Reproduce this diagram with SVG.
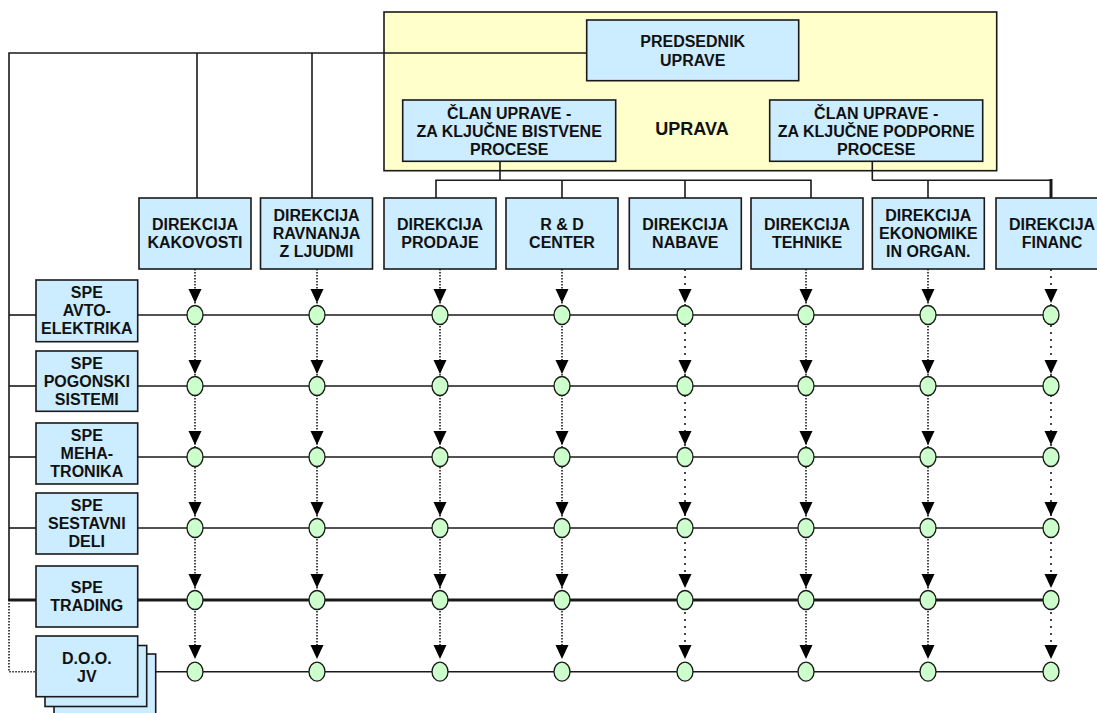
<svg xmlns="http://www.w3.org/2000/svg" xmlns:xlink="http://www.w3.org/1999/xlink" width="1097" height="713" viewBox="0 0 1097 713">
<style>
.box{fill:#CCECFF;stroke:#1a1a1a;stroke-width:1.6}
.upr{fill:#FFFFCC;stroke:#1a1a1a;stroke-width:1.6}
.t{font-family:"Liberation Sans",Arial,sans-serif;font-weight:bold;font-size:16px;text-anchor:middle;fill:#111}
.big{font-size:18px}
.ln{stroke:#1a1a1a;stroke-width:1.6;fill:none}
.thick{stroke:#1a1a1a;stroke-width:3;fill:none}
.dot{stroke:#1a1a1a;stroke-width:1.6;stroke-dasharray:1.5 1.5;fill:none}
.dots{stroke:#1a1a1a;stroke-width:1.6;stroke-dasharray:2 5;fill:none}
.ah{fill:#000}
.jn{fill:#CCFFCC;stroke:#1a1a1a;stroke-width:1.3}
</style>
<defs>
<path id="ah" class="ah" d="M-6.5,0 L6.5,0 L0,14 Z"/>
<ellipse id="jn" class="jn" cx="0" cy="0" rx="8" ry="9.5"/>
</defs>

<g id="uprava">
<rect class="upr" x="384" y="12" width="612.7" height="158.7"/>
<text class="t big" x="692" y="134.5">UPRAVA</text>
</g>

<g id="connectors">
<polyline class="ln" points="586.7,53 9,53 9,600"/>
<line class="ln" x1="197" y1="53" x2="197" y2="198"/>
<line class="ln" x1="312" y1="53" x2="312" y2="198"/>
<line class="ln" x1="500" y1="161.3" x2="500" y2="180.3"/>
<polyline class="ln" points="436,198 436,180.3 811,180.3 811,198"/>
<line class="ln" x1="562" y1="180.3" x2="562" y2="198"/>
<line class="ln" x1="685" y1="180.3" x2="685" y2="198"/>
<line class="ln" x1="872.3" y1="161.3" x2="872.3" y2="180.3"/>
<line class="ln" x1="872.3" y1="180.3" x2="1051" y2="180.3"/>
<line class="ln" x1="928" y1="180.3" x2="928" y2="198"/>
<line class="thick" x1="1051" y1="179" x2="1051" y2="198"/>
<polyline class="dot" points="9,603 9,671.7 36,671.7"/>
<line class="ln" x1="9" y1="315" x2="36" y2="315"/>
<line class="ln" x1="137.7" y1="315" x2="1051" y2="315"/>
<line class="ln" x1="9" y1="386" x2="36" y2="386"/>
<line class="ln" x1="137.7" y1="386" x2="1051" y2="386"/>
<line class="ln" x1="9" y1="457" x2="36" y2="457"/>
<line class="ln" x1="137.7" y1="457" x2="1051" y2="457"/>
<line class="ln" x1="9" y1="528" x2="36" y2="528"/>
<line class="ln" x1="137.7" y1="528" x2="1051" y2="528"/>
<line class="thick" x1="8" y1="600" x2="36" y2="600"/>
<line class="thick" x1="137.7" y1="600" x2="1051" y2="600"/>
<line class="ln" x1="156" y1="671.7" x2="1051" y2="671.7"/>
<line class="dot" x1="195" y1="269" x2="195" y2="647"/>
<line class="dot" x1="317" y1="269" x2="317" y2="647"/>
<line class="dot" x1="440" y1="269" x2="440" y2="647"/>
<line class="dot" x1="562" y1="269" x2="562" y2="647"/>
<line class="dots" x1="685" y1="269" x2="685" y2="647"/>
<line class="dot" x1="806" y1="269" x2="806" y2="647"/>
<line class="dot" x1="928" y1="269" x2="928" y2="647"/>
<line class="dots" x1="1051" y1="269" x2="1051" y2="647"/>
<g>
<use xlink:href="#ah" x="195" y="289"/><use xlink:href="#ah" x="317" y="289"/><use xlink:href="#ah" x="440" y="289"/><use xlink:href="#ah" x="562" y="289"/><use xlink:href="#ah" x="685" y="289"/><use xlink:href="#ah" x="806" y="289"/><use xlink:href="#ah" x="928" y="289"/><use xlink:href="#ah" x="1051" y="289"/>
<use xlink:href="#ah" x="195" y="360"/><use xlink:href="#ah" x="317" y="360"/><use xlink:href="#ah" x="440" y="360"/><use xlink:href="#ah" x="562" y="360"/><use xlink:href="#ah" x="685" y="360"/><use xlink:href="#ah" x="806" y="360"/><use xlink:href="#ah" x="928" y="360"/><use xlink:href="#ah" x="1051" y="360"/>
<use xlink:href="#ah" x="195" y="431"/><use xlink:href="#ah" x="317" y="431"/><use xlink:href="#ah" x="440" y="431"/><use xlink:href="#ah" x="562" y="431"/><use xlink:href="#ah" x="685" y="431"/><use xlink:href="#ah" x="806" y="431"/><use xlink:href="#ah" x="928" y="431"/><use xlink:href="#ah" x="1051" y="431"/>
<use xlink:href="#ah" x="195" y="502"/><use xlink:href="#ah" x="317" y="502"/><use xlink:href="#ah" x="440" y="502"/><use xlink:href="#ah" x="562" y="502"/><use xlink:href="#ah" x="685" y="502"/><use xlink:href="#ah" x="806" y="502"/><use xlink:href="#ah" x="928" y="502"/><use xlink:href="#ah" x="1051" y="502"/>
<use xlink:href="#ah" x="195" y="574"/><use xlink:href="#ah" x="317" y="574"/><use xlink:href="#ah" x="440" y="574"/><use xlink:href="#ah" x="562" y="574"/><use xlink:href="#ah" x="685" y="574"/><use xlink:href="#ah" x="806" y="574"/><use xlink:href="#ah" x="928" y="574"/><use xlink:href="#ah" x="1051" y="574"/>
<use xlink:href="#ah" x="195" y="645"/><use xlink:href="#ah" x="317" y="645"/><use xlink:href="#ah" x="440" y="645"/><use xlink:href="#ah" x="562" y="645"/><use xlink:href="#ah" x="685" y="645"/><use xlink:href="#ah" x="806" y="645"/><use xlink:href="#ah" x="928" y="645"/><use xlink:href="#ah" x="1051" y="645"/>
</g>
<g>
<use xlink:href="#jn" x="195" y="315"/><use xlink:href="#jn" x="317" y="315"/><use xlink:href="#jn" x="440" y="315"/><use xlink:href="#jn" x="562" y="315"/><use xlink:href="#jn" x="685" y="315"/><use xlink:href="#jn" x="806" y="315"/><use xlink:href="#jn" x="928" y="315"/><use xlink:href="#jn" x="1051" y="315"/>
<use xlink:href="#jn" x="195" y="386"/><use xlink:href="#jn" x="317" y="386"/><use xlink:href="#jn" x="440" y="386"/><use xlink:href="#jn" x="562" y="386"/><use xlink:href="#jn" x="685" y="386"/><use xlink:href="#jn" x="806" y="386"/><use xlink:href="#jn" x="928" y="386"/><use xlink:href="#jn" x="1051" y="386"/>
<use xlink:href="#jn" x="195" y="457"/><use xlink:href="#jn" x="317" y="457"/><use xlink:href="#jn" x="440" y="457"/><use xlink:href="#jn" x="562" y="457"/><use xlink:href="#jn" x="685" y="457"/><use xlink:href="#jn" x="806" y="457"/><use xlink:href="#jn" x="928" y="457"/><use xlink:href="#jn" x="1051" y="457"/>
<use xlink:href="#jn" x="195" y="528"/><use xlink:href="#jn" x="317" y="528"/><use xlink:href="#jn" x="440" y="528"/><use xlink:href="#jn" x="562" y="528"/><use xlink:href="#jn" x="685" y="528"/><use xlink:href="#jn" x="806" y="528"/><use xlink:href="#jn" x="928" y="528"/><use xlink:href="#jn" x="1051" y="528"/>
<use xlink:href="#jn" x="195" y="600"/><use xlink:href="#jn" x="317" y="600"/><use xlink:href="#jn" x="440" y="600"/><use xlink:href="#jn" x="562" y="600"/><use xlink:href="#jn" x="685" y="600"/><use xlink:href="#jn" x="806" y="600"/><use xlink:href="#jn" x="928" y="600"/><use xlink:href="#jn" x="1051" y="600"/>
<use xlink:href="#jn" x="195" y="671.7"/><use xlink:href="#jn" x="317" y="671.7"/><use xlink:href="#jn" x="440" y="671.7"/><use xlink:href="#jn" x="562" y="671.7"/><use xlink:href="#jn" x="685" y="671.7"/><use xlink:href="#jn" x="806" y="671.7"/><use xlink:href="#jn" x="928" y="671.7"/><use xlink:href="#jn" x="1051" y="671.7"/>
</g>
</g>

<g id="predsednik">
<rect class="box" x="586.7" y="20" width="212" height="60.7"/>
<text class="t" x="692.7" y="46.5">PREDSEDNIK</text>
<text class="t" x="692.7" y="65.5">UPRAVE</text>
</g>
<g id="clan-bistvene">
<rect class="box" x="402.7" y="100" width="213" height="61.3"/>
<text class="t" x="509.2" y="118.5">ČLAN UPRAVE -</text>
<text class="t" x="509.2" y="136.5">ZA KLJUČNE BISTVENE</text>
<text class="t" x="509.2" y="154.5">PROCESE</text>
</g>
<g id="clan-podporne">
<rect class="box" x="769.7" y="100" width="213" height="61.3"/>
<text class="t" x="876.2" y="118.5">ČLAN UPRAVE -</text>
<text class="t" x="876.2" y="136.5">ZA KLJUČNE PODPORNE</text>
<text class="t" x="876.2" y="154.5">PROCESE</text>
</g>

<g id="dir-kakovosti">
<rect class="box" x="139" y="198" width="112" height="71"/>
<text class="t" x="195" y="230">DIREKCIJA</text>
<text class="t" x="195" y="248">KAKOVOSTI</text>
</g>
<g id="dir-ravnanja">
<rect class="box" x="260.5" y="198" width="112" height="71"/>
<text class="t" x="316.5" y="221">DIREKCIJA</text>
<text class="t" x="316.5" y="239">RAVNANJA</text>
<text class="t" x="316.5" y="257">Z LJUDMI</text>
</g>
<g id="dir-prodaje">
<rect class="box" x="384" y="198" width="112" height="71"/>
<text class="t" x="440" y="230">DIREKCIJA</text>
<text class="t" x="440" y="248">PRODAJE</text>
</g>
<g id="rd-center">
<rect class="box" x="506" y="198" width="112" height="71"/>
<text class="t" x="562" y="230">R &amp; D</text>
<text class="t" x="562" y="248">CENTER</text>
</g>
<g id="dir-nabave">
<rect class="box" x="629.3" y="198" width="112" height="71"/>
<text class="t" x="685.3" y="230">DIREKCIJA</text>
<text class="t" x="685.3" y="248">NABAVE</text>
</g>
<g id="dir-tehnike">
<rect class="box" x="751" y="198" width="112" height="71"/>
<text class="t" x="807" y="230">DIREKCIJA</text>
<text class="t" x="807" y="248">TEHNIKE</text>
</g>
<g id="dir-ekonomike">
<rect class="box" x="872.3" y="198" width="112" height="71"/>
<text class="t" x="928.3" y="221">DIREKCIJA</text>
<text class="t" x="928.3" y="239">EKONOMIKE</text>
<text class="t" x="928.3" y="257">IN ORGAN.</text>
</g>
<g id="dir-financ">
<rect class="box" x="996" y="198" width="112" height="71"/>
<text class="t" x="1052" y="230">DIREKCIJA</text>
<text class="t" x="1052" y="248">FINANC</text>
</g>

<g id="spe-avtoelektrika">
<rect class="box" x="36" y="280" width="101.7" height="61.7"/>
<text class="t" x="86.8" y="298">SPE</text>
<text class="t" x="86.8" y="316">AVTO-</text>
<text class="t" x="86.8" y="334">ELEKTRIKA</text>
</g>
<g id="spe-pogonski">
<rect class="box" x="36" y="351" width="101.7" height="60.3"/>
<text class="t" x="86.8" y="369">SPE</text>
<text class="t" x="86.8" y="387">POGONSKI</text>
<text class="t" x="86.8" y="405">SISTEMI</text>
</g>
<g id="spe-mehatronika">
<rect class="box" x="36" y="423" width="101.7" height="61"/>
<text class="t" x="86.8" y="441">SPE</text>
<text class="t" x="86.8" y="459">MEHA-</text>
<text class="t" x="86.8" y="477">TRONIKA</text>
</g>
<g id="spe-sestavni">
<rect class="box" x="36" y="493" width="101.7" height="61"/>
<text class="t" x="86.8" y="511">SPE</text>
<text class="t" x="86.8" y="529">SESTAVNI</text>
<text class="t" x="86.8" y="547">DELI</text>
</g>
<g id="spe-trading">
<rect class="box" x="36" y="566" width="101.7" height="61"/>
<text class="t" x="86.8" y="593">SPE</text>
<text class="t" x="86.8" y="611">TRADING</text>
</g>
<g id="doo-jv">
<rect class="box" x="54" y="654" width="101.7" height="61"/>
<rect class="box" x="45" y="645.5" width="101.7" height="61"/>
<rect class="box" x="36" y="636" width="101.7" height="60.7"/>
<text class="t" x="86.8" y="664">D.O.O.</text>
<text class="t" x="86.8" y="682">JV</text>
</g>
</svg>
